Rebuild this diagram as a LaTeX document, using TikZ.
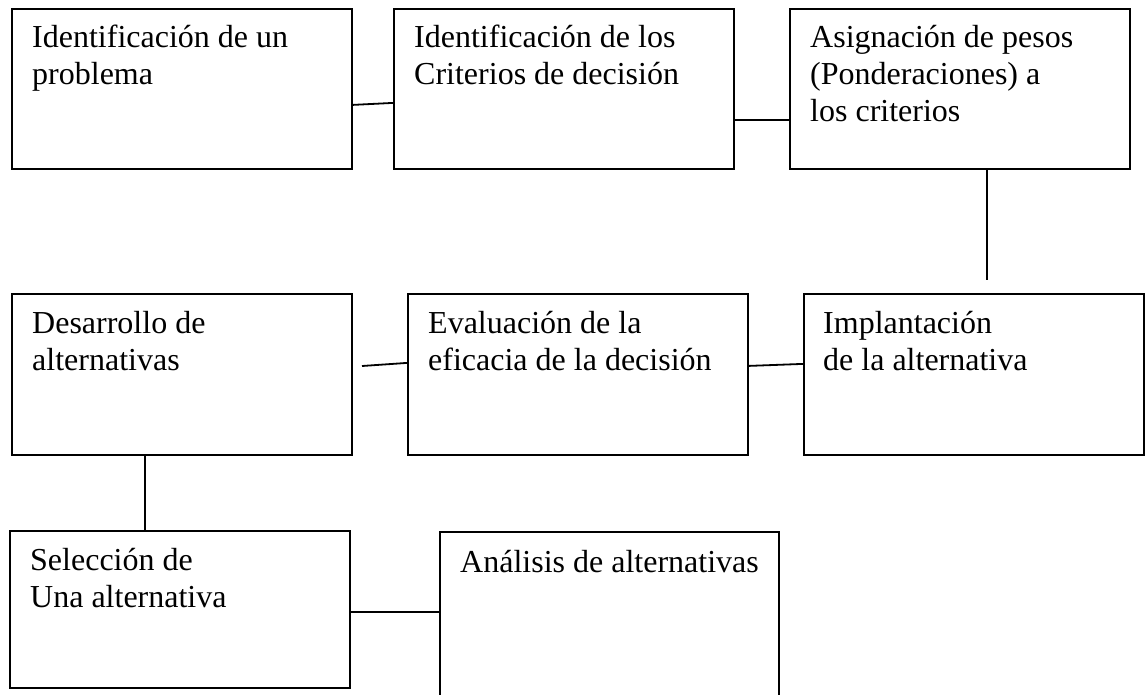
\documentclass[tikz,border=0pt]{standalone}
\usepackage{fontspec}
\setmainfont{Liberation Serif}
\newcommand{\primera}{\rule{0pt}{30pt}}
\begin{document}
\begin{tikzpicture}[x=1pt,y=-1pt,
		caja/.style={draw,line width=1.8pt,inner sep=0pt,anchor=north west,minimum width=340pt,minimum height=160pt},
		texto/.style={anchor=north west,inner sep=0pt,align=left,font=\fontsize{32}{37}\selectfont},
		linea/.style={line width=1.8pt}]
	\useasboundingbox (0,0) rectangle (1147,694);
	\node[caja] (c1) at (11,8) {};
	\node[caja] (c2) at (393,8) {};
	\node[caja] (c3) at (789,8) {};
	\node[caja,minimum height=161pt] (c4) at (11,293) {};
	\node[caja,minimum height=161pt] (c5) at (407,293) {};
	\node[caja,minimum height=161pt] (c6) at (803,293) {};
	\node[caja,minimum height=157pt] (c7) at (9,530) {};
	\node[caja,minimum width=339pt,minimum height=175pt] (c8) at (439,531) {};
	\node[texto] (t1) at ([shift={(21,9)}]c1.north west) {\primera Identificación de un\\problema};
	\node[texto] (t2) at ([shift={(21,9)}]c2.north west) {\primera Identificación de los\\Criterios de decisión};
	\node[texto] (t3) at ([shift={(21,9)}]c3.north west) {\primera Asignación de pesos\\(Ponderaciones) a\\ los criterios};
	\node[texto] (t4) at ([shift={(21,10)}]c4.north west) {\primera Desarrollo de\\alternativas};
	\node[texto] (t5) at ([shift={(21,10)}]c5.north west) {\primera Evaluación de la\\eficacia de la decisión};
	\node[texto] (t6) at ([shift={(20,10)}]c6.north west) {\primera Implantación\\ de la alternativa};
	\node[texto] (t7) at ([shift={(21,10)}]c7.north west) {\primera Selección de\\Una alternativa};
	\node[texto] (t8) at ([shift={(21,11)}]c8.north west) {\primera Análisis de alternativas};
	\coordinate (p1) at (987,280);
	\coordinate (p2) at (362,366);
	\coordinate (p3) at (145,0);
	\draw[linea] ([yshift=-16pt]c1.east) -- ([yshift=-14pt]c2.west);
	\draw[linea] ([yshift=-31pt]c2.east) -- ([yshift=-31pt]c3.west);
	\draw[linea] (c3.south -| p1) -- (p1);
	\draw[linea] (p2) -- ([yshift=11.5pt]c5.west);
	\draw[linea] ([yshift=8.5pt]c5.east) -- ([yshift=10.5pt]c6.west);
	\draw[linea] (c4.south -| p3) -- (c7.north -| p3);
	\draw[linea] ([yshift=-2.5pt]c7.east) -- ([yshift=-2.5pt]c7.east -| c8.west);
\end{tikzpicture}
\end{document}
